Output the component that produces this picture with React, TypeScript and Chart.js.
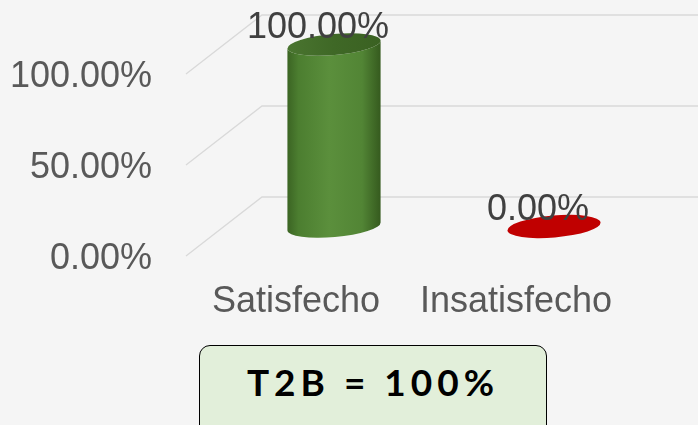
import React, { useEffect, useRef } from "react";
import { Chart, registerables } from "chart.js";

Chart.register(...registerables);

const categories = ["Satisfecho", "Insatisfecho"];
const values = [1.0, 0.0];
const yTicks = [0, 0.5, 1.0];
const summaryText = "T2B = 100%";

const DEPTH_X = 76;
const DEPTH_Y = -59;
const TILT = -0.085;
const RY = 10.5;

const fmt = (v: number) => (v * 100).toFixed(2) + "%";

const cylinderPlugin = {
  id: "cyl3d",
  beforeDatasetsDraw(chart: any) {
    const { ctx, chartArea, scales } = chart;
    const y = scales.y;
    ctx.save();
    ctx.strokeStyle = "#d9d9d9";
    ctx.lineWidth = 1.3;
    for (const t of yTicks) {
      const py = y.getPixelForValue(t);
      ctx.beginPath();
      ctx.moveTo(chartArea.left, py);
      ctx.lineTo(chartArea.left + DEPTH_X, py + DEPTH_Y);
      ctx.lineTo(chart.width, py + DEPTH_Y);
      ctx.stroke();
    }
    ctx.restore();
  },
  afterDatasetsDraw(chart: any) {
    const { ctx } = chart;
    const meta = chart.getDatasetMeta(0);
    meta.data.forEach((bar: any, i: number) => {
      const cx = bar.x + DEPTH_X / 2;
      const top = bar.y + DEPTH_Y / 2;
      const base = bar.base + DEPTH_Y / 2;
      const rx = bar.width / 2;
      ctx.save();
      if (values[i] > 0) {
        const cosT = Math.cos(TILT), sinT = Math.sin(TILT);
        const pt = (yy: number, a: number) => [
          cx + rx * Math.cos(a) * cosT - RY * Math.sin(a) * sinT,
          yy + rx * Math.cos(a) * sinT + RY * Math.sin(a) * cosT,
        ];
        const g = ctx.createLinearGradient(cx - rx, 0, cx + rx, 0);
        g.addColorStop(0, "#3b6423");
        g.addColorStop(0.12, "#4c7e30");
        g.addColorStop(0.45, "#5b8f3c");
        g.addColorStop(0.8, "#528535");
        g.addColorStop(1, "#355a1e");
        ctx.fillStyle = g;
        ctx.beginPath();
        const p0 = pt(top, 0);
        ctx.moveTo(p0[0], p0[1]);
        const b0 = pt(base, 0);
        ctx.lineTo(b0[0], b0[1]);
        ctx.ellipse(cx, base, rx, RY, TILT, 0, Math.PI, false);
        const tp = pt(top, Math.PI);
        ctx.lineTo(tp[0], tp[1]);
        ctx.ellipse(cx, top, rx, RY, TILT, Math.PI, 0, true);
        ctx.closePath();
        ctx.fill();
        const tg = ctx.createLinearGradient(cx - rx, 0, cx + rx, 0);
        tg.addColorStop(0, "#4a7530");
        tg.addColorStop(0.5, "#3f6826");
        tg.addColorStop(1, "#3a6122");
        ctx.fillStyle = tg;
        ctx.beginPath();
        ctx.ellipse(cx, top, rx, RY, TILT, 0, Math.PI * 2);
        ctx.fill();
      } else {
        ctx.fillStyle = "#c00000";
        ctx.beginPath();
        ctx.ellipse(cx, base, rx, RY + 0.5, TILT, 0, Math.PI * 2);
        ctx.fill();
      }
      ctx.fillStyle = "#404040";
      ctx.font = "36px 'Liberation Sans', Arial, sans-serif";
      ctx.textAlign = "center";
      ctx.textBaseline = "middle";
      ctx.fillText(fmt(values[i]), cx - 16, top - 16);
      ctx.restore();
    });
  },
};

export default function App() {
  const ref = useRef<HTMLCanvasElement | null>(null);
  useEffect(() => {
    document.body.style.margin = "0";
    document.body.style.background = "#f5f5f5";
    const chart = new Chart(ref.current as HTMLCanvasElement, {
      type: "bar",
      data: {
        labels: categories,
        datasets: [
          {
            data: values,
            backgroundColor: "rgba(0,0,0,0)",
            borderWidth: 0,
            categoryPercentage: 1,
            barPercentage: 0.425,
          },
        ],
      },
      options: {
        animation: false,
        responsive: false,
        maintainAspectRatio: false,
        layout: { padding: { top: 74, right: 72, bottom: 109, left: 0 } },
        plugins: { legend: { display: false }, tooltip: { enabled: false } },
        scales: {
          x: {
            grid: { display: false, drawTicks: false },
            border: { display: false },
            ticks: {
              color: "#595959",
              font: { size: 36, family: "'Liberation Sans', Arial, sans-serif" },
              padding: 24,
            },
            afterFit: (s: any) => {
              s.height = 60;
            },
          },
          y: {
            min: 0,
            max: 1,
            grid: { display: false, drawTicks: false },
            border: { display: false },
            afterBuildTicks: (s: any) => {
              s.ticks = yTicks.map((v) => ({ value: v }));
            },
            ticks: {
              color: "#595959",
              font: { size: 36, family: "'Liberation Sans', Arial, sans-serif" },
              padding: 34,
              labelOffset: 3,
              callback: (v: any) => fmt(Number(v)),
            },
            afterFit: (s: any) => {
              s.width = 186;
            },
          },
        },
      },
      plugins: [cylinderPlugin],
    });
    return () => chart.destroy();
  }, []);
  return (
    <div style={{ position: "relative", width: 698, height: 425, background: "#f5f5f5", overflow: "hidden" }}>
      <canvas ref={ref} width={698} height={425} style={{ display: "block" }} />
      <div
        style={{
          position: "absolute",
          left: 199,
          top: 345,
          width: 348,
          height: 100,
          boxSizing: "border-box",
          border: "1.5px solid #000",
          borderRadius: 11,
          background: "#e2efda",
          fontFamily: "Lato, sans-serif",
          fontWeight: "bold",
          fontSize: 37,
          letterSpacing: 5,
          color: "#000",
          textAlign: "center",
          paddingTop: 15,
          lineHeight: "42px",
        }}
      >
        {summaryText}
      </div>
    </div>
  );
}
